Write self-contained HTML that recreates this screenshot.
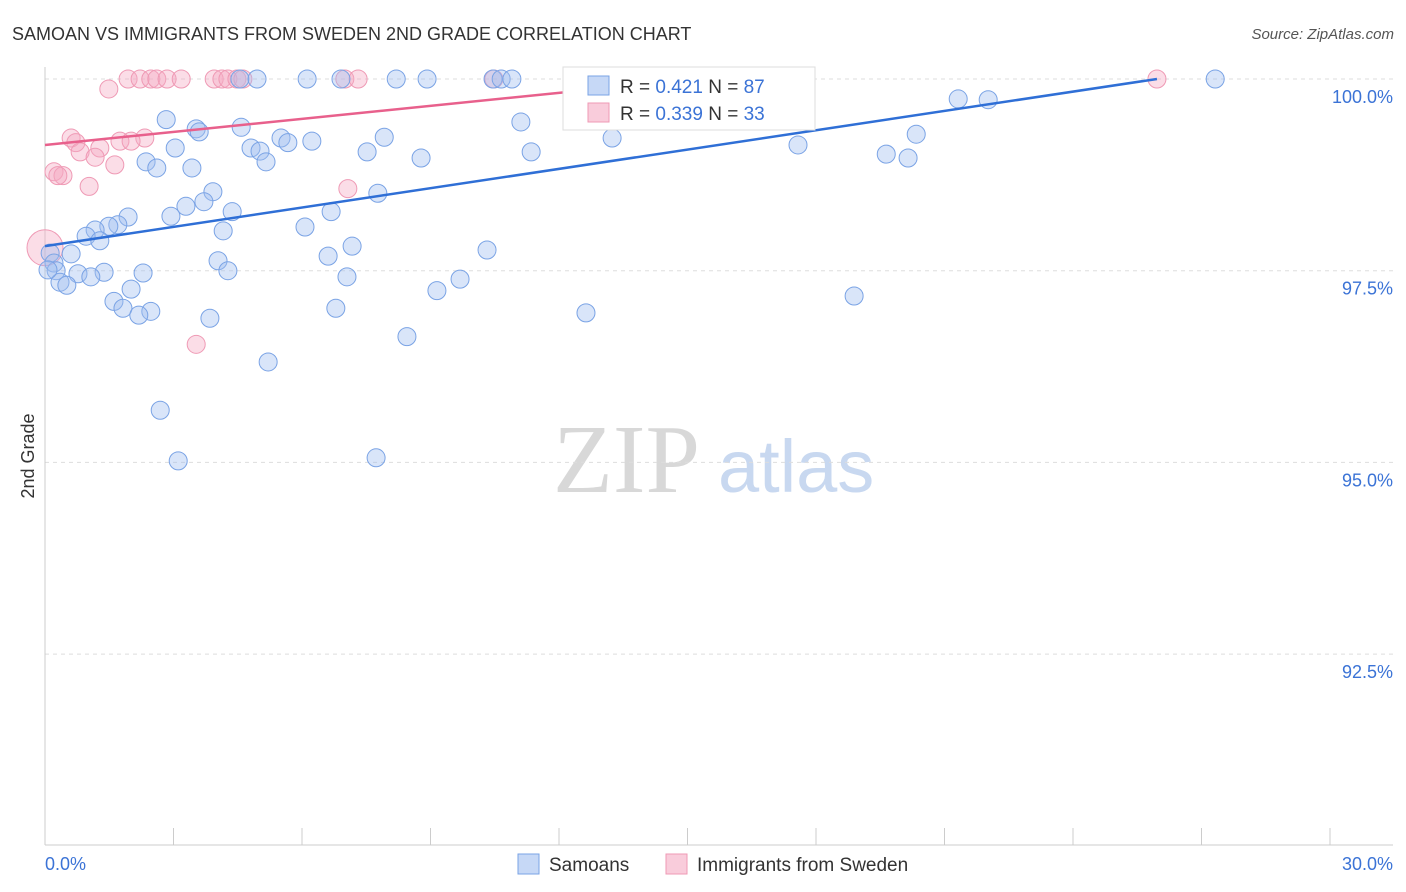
<!DOCTYPE html>
<html><head><meta charset="utf-8">
<style>
body{margin:0;background:#fff;font-family:"Liberation Sans",sans-serif;}
svg{display:block}
</style></head>
<body>
<svg id="chart" width="1406" height="892" viewBox="0 0 1406 892">
<text x="12" y="40" font-size="18" fill="#333">SAMOAN VS IMMIGRANTS FROM SWEDEN 2ND GRADE CORRELATION CHART</text>
<text x="1394" y="39" font-size="15" fill="#555" font-style="italic" text-anchor="end">Source: ZipAtlas.com</text>
<text x="34" y="456" font-size="18" fill="#333" transform="rotate(-90 34 456)" text-anchor="middle">2nd Grade</text>
<g>
<text x="553" y="492" font-size="98" fill="#d8d8d8" font-family="Liberation Serif,serif">ZIP</text>
<text x="718" y="492" font-size="74" fill="#c8d8f0">atlas</text>
</g>
<g id="grid"></g>
<g id="axes"></g>
<g id="marks"></g>
<g>
<rect x="563" y="67" width="252" height="63" fill="#fff" stroke="#ddd"/>
<rect x="588" y="76" width="21" height="19" fill="rgba(160,190,240,0.6)" stroke="#7aa3e5"/>
<text x="620" y="93" font-size="19" fill="#333">R = <tspan fill="#3b73d6">0.421</tspan>   N = <tspan fill="#3b73d6">87</tspan></text>
<rect x="588" y="103" width="21" height="19" fill="rgba(245,170,195,0.6)" stroke="#ef9ab5"/>
<text x="620" y="120" font-size="19" fill="#333">R = <tspan fill="#3b73d6">0.339</tspan>   N = <tspan fill="#3b73d6">33</tspan></text>
</g>
<g>
<rect x="518" y="854" width="21" height="20" fill="rgba(160,190,240,0.6)" stroke="#7aa3e5"/>
<text x="549" y="871" font-size="19" fill="#333">Samoans</text>
<rect x="666" y="854" width="21" height="20" fill="rgba(245,170,195,0.6)" stroke="#ef9ab5"/>
<text x="697" y="871" font-size="19" fill="#333">Immigrants from Sweden</text>
</g>
</svg>
<script>
const yTicks=[100,97.5,95,92.5];
const yTickLabels=["100.0%","97.5%","95.0%","92.5%"];
const xTicks=[0,3,6,9,12,15,18,21,24,27,30];
const xEndLabels=["0.0%","30.0%"];
const blueX=[6.12,6.91,8.20,8.92,10.46,10.65,10.90,12.35,13.99,14.97,4.55,4.95,27.32,21.32,22.02,2.83,3.53,3.60,4.58,11.11,7.92,5.51,5.67,6.23,3.04,4.81,5.02,7.52,8.78,11.35,13.24,17.58,19.64,20.15,20.34,2.36,2.61,3.43,5.16,3.92,7.77,3.71,3.29,2.94,1.94,4.37,1.70,1.49,1.17,0.96,1.28,4.16,6.07,6.68,7.17,10.32,6.61,0.61,0.12,0.21,4.04,4.27,2.29,1.38,0.77,1.07,0.26,0.35,0.51,7.05,9.69,9.15,2.01,1.61,1.82,2.47,2.19,6.79,3.85,12.63,18.89,8.45,5.21,2.69,3.11,7.73,0.07];
const blueY=[100,100,100,100,100,100,100,100,100,100,100,100,100,99.74,99.73,99.47,99.35,99.31,99.37,99.44,99.24,99.23,99.17,99.19,99.10,99.10,99.06,99.05,98.97,99.05,99.23,99.14,99.02,98.97,99.28,98.92,98.84,98.84,98.92,98.53,98.51,98.40,98.34,98.21,98.20,98.27,98.10,98.08,98.03,97.95,97.89,98.02,98.07,98.27,97.82,97.77,97.69,97.72,97.73,97.60,97.63,97.50,97.47,97.48,97.46,97.42,97.50,97.35,97.31,97.42,97.39,97.24,97.26,97.10,97.01,96.97,96.92,97.01,96.88,96.95,97.17,96.64,96.31,95.68,95.02,95.06,97.51];
const pinkX=[1.94,2.22,2.47,2.61,2.85,3.18,3.95,4.13,4.27,4.48,4.62,7.00,7.31,10.48,25.96,1.49,0.61,0.72,2.33,1.75,2.01,1.28,0.82,1.17,1.63,0.21,0.42,0.30,1.03,7.07,3.53,0];
const pinkY=[100,100,100,100,100,100,100,100,100,100,100,100,100,100,100,99.87,99.23,99.17,99.23,99.19,99.19,99.10,99.05,98.98,98.88,98.79,98.74,98.74,98.60,98.57,96.54,97.80];
const pinkR=[9,9,9,9,9,9,9,9,9,9,9,9,9,9,9,9,9,9,9,9,9,9,9,9,9,9,9,9,9,9,9,18];
const blueTrend=[[0,97.82],[25.96,100]];
const pinkTrend=[[0,99.14],[12.72,99.86]];

const NS="http://www.w3.org/2000/svg";
const X=v=>45+v*(1285/30);
const Y=v=>79+(100-v)*76.68;
function mk(tag,attrs,parent){const e=document.createElementNS(NS,tag);for(const k in attrs)e.setAttribute(k,attrs[k]);parent.appendChild(e);return e;}
const grid=document.getElementById('grid'),axes=document.getElementById('axes'),marks=document.getElementById('marks');
yTicks.forEach((t,i)=>{
  const l=mk('line',{x1:45,x2:1393,y1:Y(t),y2:Y(t),stroke:'#ddd','stroke-dasharray':'4 4'},grid);
  
  
  const tx=mk('text',{x:1393,y:Y(t)+24,'font-size':18,fill:'#3b73d6','text-anchor':'end'},axes);
  tx.textContent=yTickLabels[i];
  
  
});
let a=mk('line',{x1:45,x2:45,y1:67,y2:845,stroke:'#ccc'},axes);


a=mk('line',{x1:45,x2:1393,y1:845,y2:845,stroke:'#ccc'},axes);


xTicks.forEach(t=>{
  const l=mk('line',{x1:X(t),x2:X(t),y1:828,y2:845,stroke:'#ccc'},axes);
  
  
});
let t0=mk('text',{x:45,y:870,'font-size':18,fill:'#3b73d6'},axes);t0.textContent=xEndLabels[0];


let t1=mk('text',{x:1393,y:870,'font-size':18,fill:'#3b73d6','text-anchor':'end'},axes);t1.textContent=xEndLabels[1];



pinkX.forEach((x,i)=>{
  const c=mk('circle',{cx:X(x),cy:Y(pinkY[i]),r:pinkR[i],fill:'rgba(245,170,195,0.4)',stroke:'#ef9ab5','stroke-width':1},marks);
  
  
});
blueX.forEach((x,i)=>{
  const c=mk('circle',{cx:X(x),cy:Y(blueY[i]),r:9,fill:'rgba(160,190,240,0.4)',stroke:'#7aa3e5','stroke-width':1},marks);
  
  
});
let bl=mk('line',{x1:X(blueTrend[0][0]),y1:Y(blueTrend[0][1]),x2:X(blueTrend[1][0]),y2:Y(blueTrend[1][1]),stroke:'#2f6fd6','stroke-width':2.5},marks);


let pl=mk('line',{x1:X(pinkTrend[0][0]),y1:Y(pinkTrend[0][1]),x2:X(pinkTrend[1][0]),y2:Y(pinkTrend[1][1]),stroke:'#e8608c','stroke-width':2.5},marks);


</script>
</body></html>
